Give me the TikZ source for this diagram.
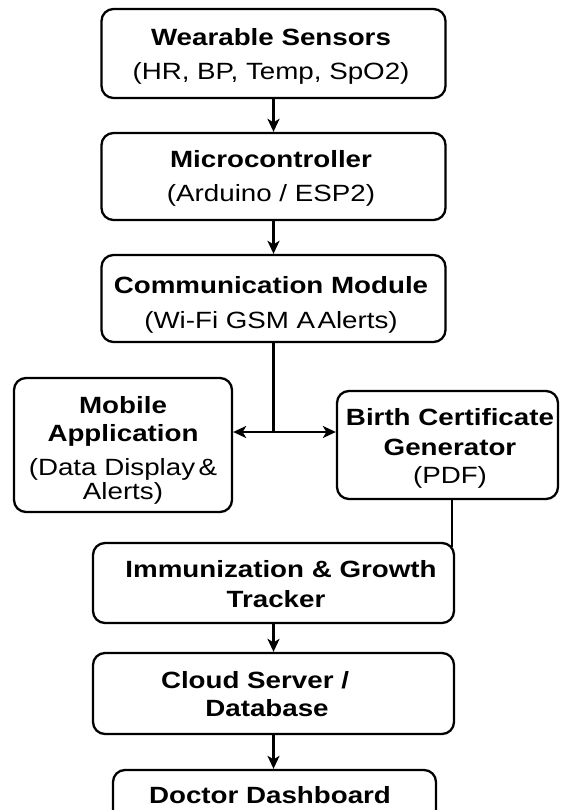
\documentclass[tikz,border=0pt]{standalone}
\usepackage{fontspec}
\setmainfont{Liberation Sans}[FakeStretch=1.18]
\usetikzlibrary{arrows.meta}
\begin{document}
\begin{tikzpicture}[x=1pt,y=-1pt,
  box/.style={draw, line width=2.3pt, rounded corners=12pt, inner sep=0pt},
  hd/.style={font=\fontsize{23.5}{28}\selectfont\bfseries, anchor=base, inner sep=0pt},
  sub/.style={font=\fontsize{23.5}{28}\selectfont, anchor=base, inner sep=0pt},
  arr/.style={line width=2.2pt, -{Stealth[length=13pt,width=12pt,inset=3.5pt]}},
  lnk/.style={line width=2.2pt}]
\useasboundingbox (0,0) rectangle (561,810);
\fill[white] (0,0) rectangle (561,810);
\clip (0,0) rectangle (561,810);

% boxes
\node[box, minimum width=344pt, minimum height=89pt] (ws) at (273.5,53.5) {};
\node[box, minimum width=344pt, minimum height=87pt] (mc) at (273.5,176.5) {};
\node[box, minimum width=344pt, minimum height=87pt] (cm) at (273.5,298.5) {};
\node[box, minimum width=218pt, minimum height=134pt] (ma) at (123,445) {};
\node[box, minimum width=221pt, minimum height=108pt] (bc) at (447.5,445) {};
\node[box, minimum width=361pt, minimum height=80pt] (im) at (273.5,583) {};
\node[box, minimum width=361pt, minimum height=81pt] (cs) at (273.5,693.5) {};
\node[box, minimum width=323pt, minimum height=80pt] (dd) at (274.5,810) {};

% labels
\node[hd]  (ws1) at (271,45.7) {Wearable Sensors};
\node[sub] (ws2) at (271,80) {(HR, BP, Temp, SpO2)};
\node[hd]  (mc1) at (271,168) {Microcontroller};
\node[sub] (mc2) at (271,202) {(Arduino / ESP2)};
\node[hd]  (cm1) at (271,293) {Communication Module};
\node[sub] (cm2) at (271,328) {(Wi-Fi GSM A\kern0.1em Alerts)};
\node[hd]  (ma1) at (123,413) {Mobile};
\node[hd]  (ma2) at (123,441.7) {Application};
\node[sub] (ma3) at (123,475) {(Data Display\kern0.15em\&};
\node[sub] (ma4) at (123,499) {Alerts)};
\node[hd]  (bc1) at (450,425) {Birth Certificate};
\node[hd]  (bc2) at (450,455) {Generator};
\node[sub] (bc3) at (450,483) {(PDF)};
\node[hd]  (im1) at (281,577.7) {Immunization \& Growth};
\node[hd]  (im2) at (276,607) {Tracker};
\node[hd]  (cs1) at (255,688) {Cloud Server /};
\node[hd]  (cs2) at (267,716.7) {Database};
\node[hd]  (dd1) at (270,803) {Doctor Dashboard};

% connectors
\draw[arr] (ws.south) -- (mc.north);
\draw[arr] (mc.south) -- (cm.north);
\coordinate (j) at (273.5,432);
\draw[lnk] (cm.south) -- (j);
\draw[arr] (j) -- (j -| ma.east);
\draw[arr] (j) -- (j -| bc.west);
\coordinate (drop) at (452,547);
\draw[lnk] (bc.south -| drop) -- (drop);
\draw[arr] (im.south) -- (cs.north);
\draw[arr] (cs.south) -- (cs.south |- dd.north);
\end{tikzpicture}
\end{document}
